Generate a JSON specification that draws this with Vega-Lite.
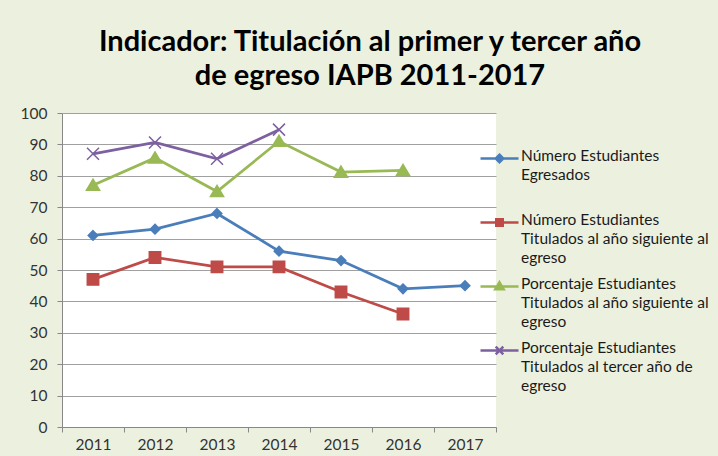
{
  "$schema": "https://vega.github.io/schema/vega-lite/v6.json",
  "width": 434,
  "height": 314,
  "autosize": {"type": "none"},
  "padding": {"left": 62, "top": 113, "right": 222, "bottom": 29},
  "background": "#EBF1DE",
  "config": {"view": {"fill": "white", "stroke": null}, "font": "Lato"},
  "title": {
    "text": ["Indicador: Titulación al primer y tercer año", "de egreso IAPB 2011-2017"],
    "font": "Lato", "fontSize": 29, "fontWeight": "bold", "color": "#000000",
    "anchor": "middle", "frame": "group", "dx": 91, "offset": -8, "lineHeight": 34, "baseline": "alphabetic"
  },
  "data": {
    "values": [
      {"year": "2011", "series": "Número Estudiantes Egresados", "code": "a", "value": 61},
      {"year": "2012", "series": "Número Estudiantes Egresados", "code": "a", "value": 63},
      {"year": "2013", "series": "Número Estudiantes Egresados", "code": "a", "value": 68},
      {"year": "2014", "series": "Número Estudiantes Egresados", "code": "a", "value": 56},
      {"year": "2015", "series": "Número Estudiantes Egresados", "code": "a", "value": 53},
      {"year": "2016", "series": "Número Estudiantes Egresados", "code": "a", "value": 44},
      {"year": "2017", "series": "Número Estudiantes Egresados", "code": "a", "value": 45},
      {"year": "2011", "series": "Número Estudiantes Titulados al año siguiente al egreso", "code": "b", "value": 47},
      {"year": "2012", "series": "Número Estudiantes Titulados al año siguiente al egreso", "code": "b", "value": 54},
      {"year": "2013", "series": "Número Estudiantes Titulados al año siguiente al egreso", "code": "b", "value": 51},
      {"year": "2014", "series": "Número Estudiantes Titulados al año siguiente al egreso", "code": "b", "value": 51},
      {"year": "2015", "series": "Número Estudiantes Titulados al año siguiente al egreso", "code": "b", "value": 43},
      {"year": "2016", "series": "Número Estudiantes Titulados al año siguiente al egreso", "code": "b", "value": 36},
      {"year": "2011", "series": "Porcentaje Estudiantes Titulados al año siguiente al egreso", "code": "c", "value": 77},
      {"year": "2012", "series": "Porcentaje Estudiantes Titulados al año siguiente al egreso", "code": "c", "value": 85.7},
      {"year": "2013", "series": "Porcentaje Estudiantes Titulados al año siguiente al egreso", "code": "c", "value": 75},
      {"year": "2014", "series": "Porcentaje Estudiantes Titulados al año siguiente al egreso", "code": "c", "value": 91},
      {"year": "2015", "series": "Porcentaje Estudiantes Titulados al año siguiente al egreso", "code": "c", "value": 81.2},
      {"year": "2016", "series": "Porcentaje Estudiantes Titulados al año siguiente al egreso", "code": "c", "value": 81.7},
      {"year": "2011", "series": "Porcentaje Estudiantes Titulados al tercer año de egreso", "code": "d", "value": 87},
      {"year": "2012", "series": "Porcentaje Estudiantes Titulados al tercer año de egreso", "code": "d", "value": 90.6},
      {"year": "2013", "series": "Porcentaje Estudiantes Titulados al tercer año de egreso", "code": "d", "value": 85.4},
      {"year": "2014", "series": "Porcentaje Estudiantes Titulados al tercer año de egreso", "code": "d", "value": 94.7}
    ]
  },
  "encoding": {
    "x": {
      "field": "year", "type": "ordinal",
      "scale": {"type": "band", "paddingInner": 0, "paddingOuter": 0, "domain": ["2011", "2012", "2013", "2014", "2015", "2016", "2017"]},
      "axis": {
        "title": null, "labelAngle": 0, "tickBand": "extent", "grid": false, "tickSize": 5, "labelPadding": 5,
        "domainColor": "#888888", "tickColor": "#888888", "labelFont": "Lato", "labelFontSize": 15.5, "labelColor": "#333333"
      }
    },
    "y": {
      "field": "value", "type": "quantitative",
      "scale": {"domain": [0, 100], "nice": false},
      "axis": {
        "title": null, "values": [0, 10, 20, 30, 40, 50, 60, 70, 80, 90, 100], "tickSize": 5, "labelPadding": 10, "labelFlush": false,
        "domainColor": "#888888", "tickColor": "#888888", "gridColor": "#A0A0A0", "labelFont": "Lato", "labelFontSize": 15.5, "labelColor": "#333333"
      }
    },
    "color": {
      "field": "series", "type": "nominal",
      "scale": {
        "domain": ["Número Estudiantes Egresados", "Número Estudiantes Titulados al año siguiente al egreso", "Porcentaje Estudiantes Titulados al año siguiente al egreso", "Porcentaje Estudiantes Titulados al tercer año de egreso"],
        "range": ["#4A7EBB", "#BE4B48", "#98B954", "#7D60A0"]
      },
      "legend": {
        "orient": "none", "legendX": 417, "legendY": 25, "title": null,
        "symbolSize": 1444, "labelFont": "Lato", "labelFontSize": 15.5, "labelColor": "#1a1a1a",
        "labelBaseline": "top", "labelOffset": 1, "rowPadding": 0, "labelLimit": 300,
        "labelExpr": "datum.value == 'Número Estudiantes Egresados' ? ['Número Estudiantes', 'Egresados', ''] : datum.value == 'Número Estudiantes Titulados al año siguiente al egreso' ? ['Número Estudiantes', 'Titulados al año siguiente al', 'egreso'] : datum.value == 'Porcentaje Estudiantes Titulados al año siguiente al egreso' ? ['Porcentaje Estudiantes', 'Titulados al año siguiente al', 'egreso'] : ['Porcentaje Estudiantes', 'Titulados al tercer año de', 'egreso']",
        "encode": {
          "symbols": {
            "update": {
              "shape": {"signal": "datum.index == 0 ? 'M-1,0H1M0,-0.2L0.2,0L0,0.2L-0.2,0Z' : datum.index == 1 ? 'M-1,0H1M-0.17,-0.17H0.17V0.17H-0.17Z' : datum.index == 2 ? 'M-1,0H1M0,-0.22L0.22,0.15H-0.22Z' : 'M-1,0H1M-0.2,-0.2L0.2,0.2M-0.2,0.2L0.2,-0.2'"},
              "fill": {"scale": "color", "field": "value"},
              "stroke": {"scale": "color", "field": "value"},
              "strokeWidth": {"value": 2.5},
              "opacity": {"value": 1},
              "size": {"value": 1444}
            }
          },
          "labels": {"update": {"dy": {"value": -10}, "lineHeight": {"value": 19}}}
        }
      }
    }
  },
  "layer": [
    {"mark": {"type": "line", "strokeWidth": 2.75}},
    {
      "mark": {"type": "point", "filled": true, "opacity": 1, "strokeWidth": 1.5, "size": 144},
      "encoding": {
        "shape": {
          "field": "code", "type": "nominal", "legend": null,
          "scale": {
            "domain": ["a", "b", "c", "d"],
            "range": ["M0,-0.8L0.8,0L0,0.8L-0.8,0Z", "M-0.95,-0.95H0.95V0.95H-0.95Z", "M0,-1L1.1,0.85H-1.1Z", "M-1,-1L1,1M-1,1L1,-1"]
          }
        },
        "stroke": {
          "field": "code", "type": "nominal", "legend": null,
          "scale": {
            "domain": ["a", "b", "c", "d"],
            "range": ["#4A7EBB", "#BE4B48", "#98B954", "#7D60A0"]
          }
        }
      }
    }
  ]
}
